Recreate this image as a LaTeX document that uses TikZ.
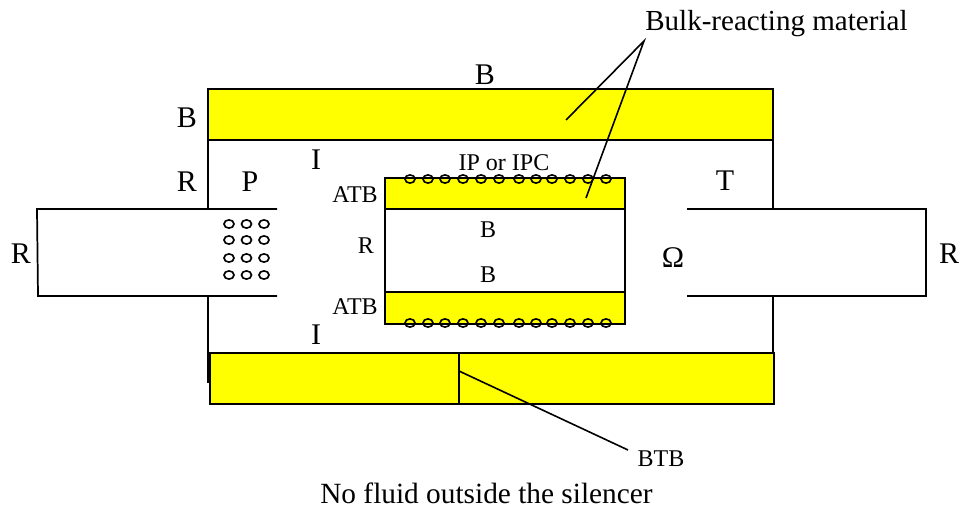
\documentclass[tikz,border=0pt]{standalone}
\usepackage{fontspec}
\setmainfont{Liberation Serif}
\usetikzlibrary{positioning,fit,shapes.geometric}

\definecolor{bulkfill}{RGB}{255,255,0}
\tikzset{
	fillbox/.style={draw,line width=1.5pt,fill=bulkfill,inner sep=0pt,outer sep=0pt,anchor=north west},
	wall/.style={line width=1.3pt},
	lead/.style={line width=1.2pt},
	hole/.style={draw,ellipse,line width=1.2pt,minimum width=7.5pt,minimum height=6.2pt,inner sep=0pt},
	biglab/.style={font=\fontsize{22.5}{24}\selectfont,inner sep=0pt},
	smalllab/.style={font=\fontsize{18}{20}\selectfont,inner sep=0pt},
}

\begin{document}
\begin{tikzpicture}[x=0.75pt,y=-0.75pt]
	\useasboundingbox (0,0) rectangle (961,506);

	\node[fillbox,minimum width=423.75pt,minimum height=38.25pt] (topbox) at (208,89) {};
	\node[fillbox,minimum width=423pt,minimum height=38.25pt] (botbox) at (210,353) {};
	\node[fillbox,minimum width=180pt,minimum height=23.25pt] (intop) at (385,178) {};
	\node[fillbox,minimum width=180pt,minimum height=24pt] (inbot) at (385,292) {};

	% walls of the chamber
	\coordinate (ltop) at (208,209);
	\coordinate (rtop) at (773,209);
	\coordinate (lbot) at (208,296);
	\coordinate (rbot) at (773,296);
	\draw[wall] (topbox.south west) -- (ltop);
	\draw[wall] (topbox.south east) -- (rtop);
	\draw[wall] (lbot) -- ++(0,87);
	\draw[wall] (rbot) -- (rbot |- botbox.north);

	% inlet and outlet pipes
	\draw[wall] (277,209) -- (37,209) -- (38,296) -- (277,296);
	\draw[wall] (687,209) -- (926,209) -- (926,296) -- (687,296);
	\draw[wall] (intop.south west) -- (inbot.north west);
	\draw[wall] (intop.south east) -- (inbot.north east);
	\draw[lead] (459,353) coordinate (divtop) -- (459,404);

	\foreach \x in {229,246.5,264}
		\foreach \y in {224,240,258,275}
			\node[hole] (h\x-\y) at (\x,\y) {};
	\foreach \x/\n in {410/a,428/b,445/c,463/d,481/e,499/f,519/g,536/h,552/i,570/j,588/k,606/l} {
		\node[hole] (ht\n) at (\x,179) {};
		\node[hole] (hb\n) at (\x,323) {};
	}

	\node[biglab,font=\fontsize{21.8}{24}\selectfont,anchor=base west] (bulk) at (645,31) {Bulk-reacting material};
	\node[biglab] (btop) at (485,75) {B};
	\node[biglab] (bleft) at (187,118) {B};
	\node[biglab] (itop) at (316,160) {I};
	\node[biglab] (ibot) at (316,335) {I};
	\node[biglab] (rleft) at (187,182) {R};
	\node[biglab] (pin) at (250,182) {P};
	\node[biglab] (tout) at (725,181) {T};
	\node[biglab] (rfar) at (21,254) {R};
	\node[biglab] (rnear) at (949,254) {R};
	\node[biglab] (omega) at (673,258) {Ω};
	\node[smalllab] (ipc) at (504,163) {IP or IPC};
	\node[smalllab] (atbt) at (355,195) {ATB};
	\node[smalllab] (atbb) at (355,307) {ATB};
	\node[smalllab] (rin) at (366,246) {R};
	\node[smalllab] (bin) at (488,230) {B};
	\node[smalllab] (bim) at (488,275) {B};
	\node[smalllab] (btb) at (661,459) {BTB};
	\node[biglab,font=\fontsize{22}{24}\selectfont] (nofluid) at (486.5,493) {No fluid outside the silencer};

	\coordinate (apex) at (644,41);
	\coordinate (leadtop) at (566,120);
	\coordinate (leadin) at (586,198);
	\coordinate (leadbtb) at (459,371);
	\coordinate (btbend) at (628,450);
	\draw[lead] (leadtop) -- (apex) -- (leadin);
	\draw[lead] (leadbtb) -- (btbend);
\end{tikzpicture}
\end{document}
